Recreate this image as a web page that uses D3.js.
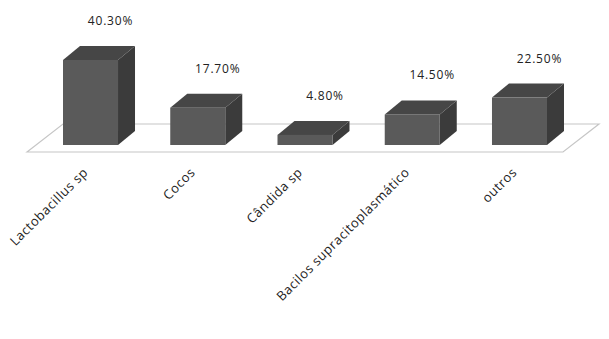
<!DOCTYPE html>
<html>
<head>
<meta charset="utf-8">
<script src="https://cdn.jsdelivr.net/npm/d3@7"></script>
<style>
  body { margin: 0; background: #fff; }
</style>
</head>
<body>
<script>
var categories = ["Lactobacillus sp", "Cocos", "Cândida sp", "Bacilos supracitoplasmático", "outros"];
var values = [40.3, 17.7, 4.8, 14.5, 22.5];
var valueLabels = ["40.30%", "17.70%", "4.80%", "14.50%", "22.50%"];

var W = 609, H = 339;
var svg = d3.select("body")
  .append("svg")
    .attr("width", W)
    .attr("height", H);

// depth offsets for the fake 3d look
var bdx = 17, bdy = -14;   // bar depth
var fdx = 36, fdy = -28;   // floor depth

var x = d3.scaleBand()
    .domain(categories)
    .range([63, 547])
    .paddingInner(0.487)
    .paddingOuter(0);

var base = 145;
var y = d3.scaleLinear()
    .domain([0, 40.3])
    .range([base, 60]);

// floor
var fy = 152, fx0 = 27, fx1 = 563;
svg.append("path")
    .attr("d", "M" + fx0 + "," + fy + "L" + (fx0 + fdx) + "," + (fy + fdy) +
               "L" + (fx1 + fdx) + "," + (fy + fdy) + "L" + fx1 + "," + fy + "Z")
    .attr("fill", "#fff")
    .attr("stroke", "#c6c6c6")
    .attr("stroke-width", 1.2);

var data = categories.map(function(c, i) {
  return {cat: c, v: values[i], label: valueLabels[i]};
});

var bars = svg.selectAll("g.bar")
    .data(data)
  .enter().append("g")
    .attr("class", "bar");

// side face
bars.append("path")
    .attr("d", function(d) {
      var x1 = x(d.cat) + x.bandwidth(), t = y(d.v);
      return "M" + x1 + "," + base + "L" + x1 + "," + t + "L" + (x1 + bdx) + "," + (t + bdy) +
             "L" + (x1 + bdx) + "," + (base + bdy) + "Z";
    })
    .attr("fill", "#3b3b3b");

// top face
bars.append("path")
    .attr("d", function(d) {
      var x0 = x(d.cat), x1 = x0 + x.bandwidth(), t = y(d.v);
      return "M" + x0 + "," + t + "L" + (x0 + bdx) + "," + (t + bdy) + "L" + (x1 + bdx) + "," + (t + bdy) +
             "L" + x1 + "," + t + "Z";
    })
    .attr("fill", "#464646");

// front face
bars.append("rect")
    .attr("x", function(d) { return x(d.cat); })
    .attr("y", function(d) { return y(d.v); })
    .attr("width", x.bandwidth())
    .attr("height", function(d) { return base - y(d.v); })
    .attr("fill", "#5a5a5a");

// value labels
bars.append("text")
    .attr("x", function(d) { return x(d.cat) + x.bandwidth() / 2 + 20; })
    .attr("y", function(d) { return y(d.v) + bdy - 21; })
    .attr("text-anchor", "middle")
    .style("font-family", "Open Sans, sans-serif")
    .style("font-size", "12px")
    .style("letter-spacing", "0.8px")
    .style("fill", "#222")
    .text(function(d) { return d.label; });

// category labels
svg.selectAll("text.cat")
    .data(categories)
  .enter().append("text")
    .attr("class", "cat")
    .attr("transform", function(d) {
      return "translate(" + (x(d) + x.bandwidth() / 2 - 5) + ",170) rotate(-45)";
    })
    .attr("text-anchor", "end")
    .attr("dy", "0.35em")
    .style("font-family", "Open Sans, sans-serif")
    .style("font-size", "13px")
    .style("letter-spacing", "0.5px")
    .style("fill", "#222")
    .text(function(d) { return d; });
</script>
</body>
</html>
